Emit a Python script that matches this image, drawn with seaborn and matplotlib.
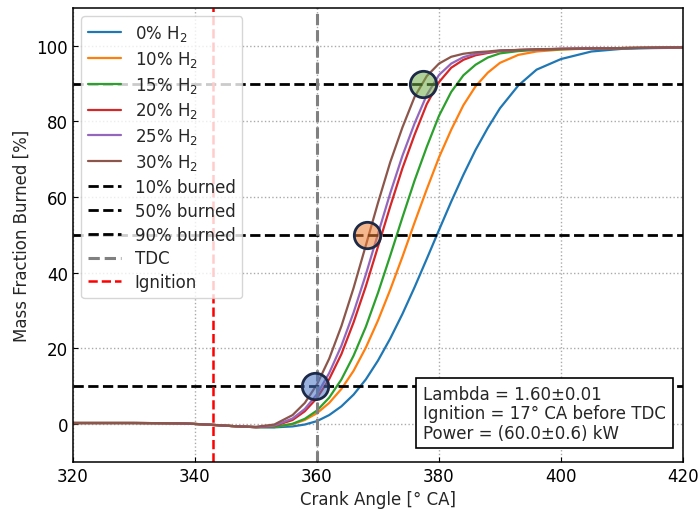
import numpy as np
import pandas as pd
import seaborn as sns
import matplotlib.pyplot as plt

# crank angle [deg CA] and mass fraction burned [%]
crank = [320, 325, 330, 335, 338, 340, 343, 346, 348, 350, 353, 356, 358, 360,
         362, 364, 366, 368, 370, 372, 374, 376, 378, 380, 382, 384, 386, 388,
         390, 393, 396, 400, 405, 410, 415, 420]
pre = [0.3, 0.3, 0.3, 0.25, 0.2, 0.05, -0.2, -0.5, -0.65]

mfb_0 = pre + [-0.8, -0.85, -0.6, -0.1, 0.8, 2.4, 4.7, 7.8, 11.8, 16.8, 22.6, 29.1, 36.2,
               43.7, 51.3, 58.8, 65.9, 72.5, 78.3, 83.5, 89.5, 93.7, 96.5, 98.5, 99.2,
               99.4, 99.5]
mfb_10 = pre + [-0.8, -0.7, 0.0, 1.1, 2.9, 5.6, 9.3, 14.1, 20.2, 27.4, 35.5, 44.2, 53.3,
                62.1, 70.5, 77.8, 84.3, 89.3, 92.9, 95.5, 97.6, 98.5, 99.0, 99.3, 99.4,
                99.5, 99.6]
mfb_15 = pre + [-0.8, -0.8, 0.1, 1.4, 3.6, 7.0, 11.8, 18.1, 25.7, 34.7, 44.5, 54.6, 64.4,
                73.3, 81.5, 87.8, 92.2, 95.0, 96.9, 98.0, 98.6, 98.9, 99.1, 99.3, 99.4,
                99.5, 99.6]
mfb_20 = pre + [-0.8, -0.5, 1.1, 3.4, 6.9, 11.9, 18.5, 26.9, 36.4, 46.9, 57.5, 67.6, 76.5,
                84.6, 90.4, 94.2, 96.3, 97.5, 98.1, 98.6, 98.9, 99.0, 99.2, 99.3, 99.4,
                99.5, 99.6]
mfb_25 = pre + [-0.8, -0.4, 1.5, 4.0, 7.9, 13.5, 20.7, 29.5, 39.5, 50.3, 61.0, 70.9, 79.5,
                87.0, 92.3, 95.3, 97.0, 97.9, 98.3, 98.7, 98.9, 99.0, 99.2, 99.3, 99.4,
                99.5, 99.6]
mfb_30 = pre + [-0.7, -0.1, 2.4, 5.6, 10.5, 17.3, 25.9, 36.0, 47.2, 58.5, 69.2, 78.4, 86.5,
                92.0, 95.3, 97.1, 97.9, 98.3, 98.5, 98.8, 98.9, 99.1, 99.2, 99.3, 99.4,
                99.5, 99.6]

labels = ['0% H$_2$', '10% H$_2$', '15% H$_2$', '20% H$_2$', '25% H$_2$', '30% H$_2$']
series = [mfb_0, mfb_10, mfb_15, mfb_20, mfb_25, mfb_30]

burn_levels = [10, 50, 90]
burn_angles = [359.6, 368.2, 377.3]   # CA10 / CA50 / CA90 of the 30% H2 case
tdc = 360
ignition = 343

sns.set_style('ticks')
plt.rcParams['font.family'] = ['DejaVu Sans']
plt.rcParams['font.size'] = 12

fig = plt.figure(figsize=(6.99, 5.10), dpi=100)
ax = fig.add_axes([0.1044, 0.0922, 0.8727, 0.8902])

pal = sns.color_palette('tab10')
for i in range(len(series)):
    sns.lineplot(x=crank, y=series[i], color=pal[i], lw=1.6, label=labels[i], ax=ax)

for lev in burn_levels:
    ax.axhline(lev, color='black', ls='--', lw=2, label=f'{lev}% burned')
ax.axvline(tdc, color='grey', ls='--', lw=2.2, label='TDC')
ax.axvline(ignition, color='red', ls='--', lw=1.8, label='Ignition')

fills = [(0.27, 0.45, 0.77, 0.55), (0.93, 0.49, 0.19, 0.55), (0.44, 0.68, 0.28, 0.55)]
for i in range(3):
    ax.plot(burn_angles[i], burn_levels[i], 'o', ms=19, mfc=fills[i], mec='#1c2a48',
            mew=2, zorder=5)

ax.set_xlim(320, 420)
ax.set_ylim(-10, 110)
ax.set_xticks([320, 340, 360, 380, 400, 420])
ax.set_yticks([0, 20, 40, 60, 80, 100])
ax.tick_params(direction='in', labelsize=12, colors='black')
for s in ax.spines.values():
    s.set_color('black')
    s.set_linewidth(1.1)
ax.grid(True, ls=':', color='#aaaaaa', lw=1)
ax.set_xlabel('Crank Angle [° CA]', fontsize=12)
ax.set_ylabel('Mass Fraction Burned [%]', fontsize=12)

ax.legend(loc='upper left', fontsize=12, labelspacing=0.35)

ax.text(0.972, 0.045, 'Lambda = 1.60±0.01\nIgnition = 17° CA before TDC\nPower = (60.0±0.6) kW',
        transform=ax.transAxes, ha='right', va='bottom', multialignment='left',
        fontsize=12, linespacing=1.1,
        bbox=dict(boxstyle='square,pad=0.4', fc='white', ec='black', lw=1.2), zorder=6)

fig.savefig('out.png', dpi=100)
